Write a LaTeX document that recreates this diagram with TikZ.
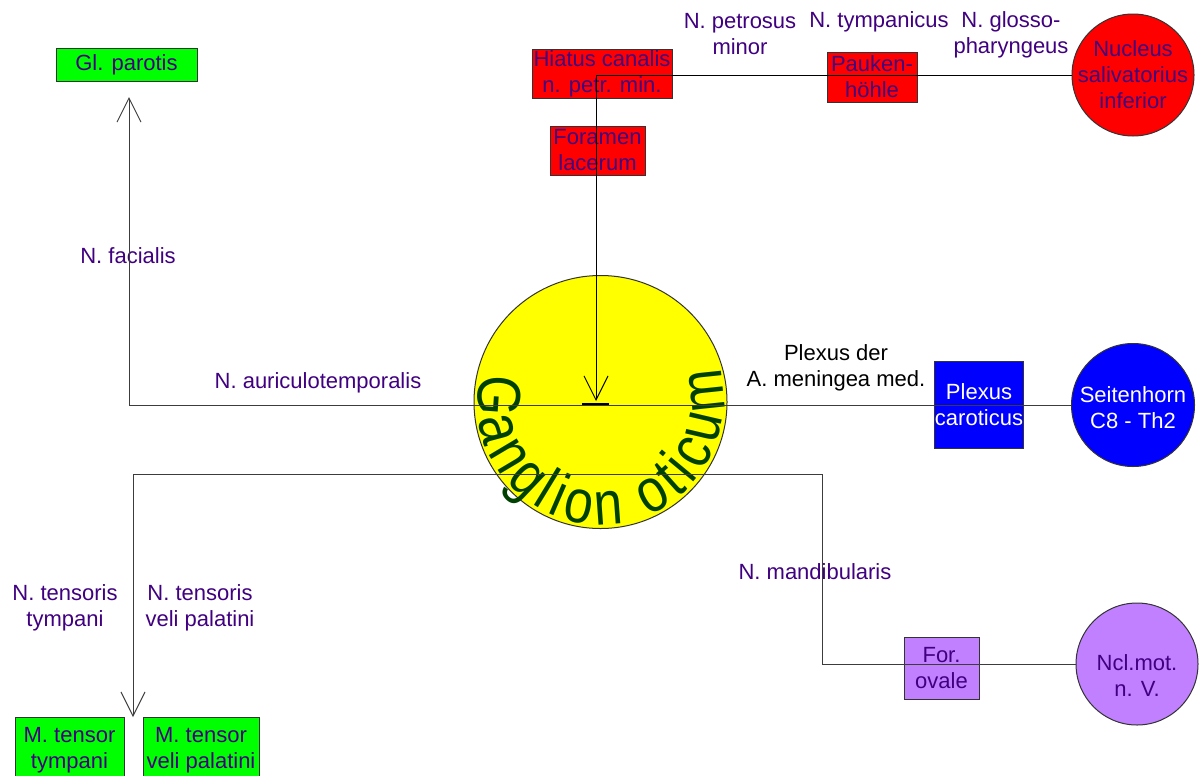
\documentclass[tikz,border=0pt]{standalone}
\usepackage{fontspec}
\setmainfont{Liberation Sans}
\newfontfamily\gangfam[FakeStretch=0.84]{Liberation Sans}
\usetikzlibrary{arrows.meta,decorations.text,calc}
\definecolor{labpurple}{RGB}{64,0,128}
\definecolor{gangreen}{RGB}{0,64,0}
\definecolor{bordergray}{RGB}{51,51,51}
\definecolor{linegray}{RGB}{60,60,60}
\definecolor{boxred}{RGB}{255,0,0}
\definecolor{boxgreen}{RGB}{0,255,0}
\definecolor{boxblue}{RGB}{0,0,255}
\definecolor{boxpurple}{RGB}{192,128,255}
\definecolor{boxyellow}{RGB}{255,255,0}
\newcommand\labfont{\fontsize{16.5}{19.5}\selectfont}
\newcommand\gangfont{\gangfam\fontsize{46}{46}\selectfont}
\begin{document}
\begin{tikzpicture}[x=0.75pt,y=-0.75pt,
 box/.style={draw=bordergray, line width=0.75pt, rectangle, inner sep=0pt, align=center, text=labpurple, font=\labfont},
 circ/.style={draw=bordergray, line width=0.75pt, circle, inner sep=0pt},
 lab/.style={align=center, text=labpurple, font=\labfont, inner sep=0pt},
 conn/.style={draw=linegray, line width=0.75pt},
 arr/.style={conn, -{Straight Barb[length=18pt,width=18pt]}},
]
\useasboundingbox (0,0) rectangle (1199,775);
\clip (0,0) rectangle (1199,775);
\fill[white] (0,0) rectangle (1199,775);

% ganglion
\node[circ, fill=boxyellow, minimum size=189.75pt] (gang) at (600.5,402) {};
\path[decorate, decoration={text along path, text color=gangreen, text align={fit to path},
  text={|\gangfont|Ganglion oticum}}]
  (gang.center) ++(-167:123) arc[start angle=-167, end angle=-376, radius=123];

% boxes
\node[box, fill=boxgreen, minimum width=105.75pt, minimum height=24.75pt] (parotis) at (126.5,64.5) {Gl. parotis};
\node[box, fill=boxred, minimum width=105pt, minimum height=36.75pt] (hiatus) at (602,73.5) {Hiatus canalis\\n. petr. min.};
\node[box, fill=boxred, minimum width=71.25pt, minimum height=36.75pt] (foramen) at (597.5,150.5) {Foramen\\lacerum};
\node[box, fill=boxred, minimum width=67.5pt, minimum height=37.5pt] (pauken) at (872,77) {Pauken-\\höhle};
\node[box, fill=boxblue, text=white, minimum width=64.5pt, minimum height=65.25pt] (plexus) at (979,404.5) {Plexus\\caroticus};
\node[box, fill=boxpurple, minimum width=56.25pt, minimum height=46.5pt] (forov) at (941.5,668) {For.\\ovale};
\node[box, fill=boxgreen, minimum width=81.75pt, minimum height=49.5pt] (mtt) at (69.5,750) {M. tensor\\tympani};
\node[box, fill=boxgreen, minimum width=87pt, minimum height=49.5pt] (mtv) at (201,750) {M. tensor\\veli palatini};

% circles
\node[circ, fill=boxred, minimum size=91.5pt] (nucleus) at (1133,75) {};
\node[lab] (nucleus-t) at (1133,75) {Nucleus\\salivatorius\\inferior};
\node[circ, fill=boxblue, minimum size=92.25pt] (seiten) at (1133,405) {};
\node[lab, text=white] (seiten-t) at (1133,408) {Seitenhorn\\C8 - Th2};
\node[circ, fill=boxpurple, minimum size=91.5pt] (ncl) at (1137,664) {};
\node[lab] (ncl-t) at (1137,676) {Ncl.mot.\\n. V.};

% labels
\node[lab] (lpet) at (740,34.5) {N. petrosus\\minor};
\node[lab] (ltym) at (879,22) {N. tympanicus};
\node[lab] (lglo) at (1011,34.5) {N. glosso-\\pharyngeus};
\node[lab] (lfac) at (128,256) {N. facialis};
\node[lab] (laur) at (318,383) {N. auriculotemporalis};
\node[lab, text=black] (lple) at (836,368) {Plexus der\\A. meningea med.};
\node[lab] (lman) at (815,572) {N. mandibularis};
\node[lab] (ltt) at (65,608) {N. tensoris\\tympani};
\node[lab] (ltv) at (200,608) {N. tensoris\\veli palatini};

% connectors
\coordinate (hc) at (596,75);
\coordinate (htip) at (596,401);
\draw[arr, draw=black] (nucleus.west) -- (hc) -- (htip);
\draw[black, line width=2pt] ($(htip)+(-14,3)$) -- ($(htip)+(13,3)$);

\coordinate (lc) at (129,405);
\coordinate (ptip) at (129,97);
\draw[arr] (seiten.west) -- (lc) -- (ptip);

\coordinate (mr) at (822,664);
\coordinate (mt) at (822,474);
\coordinate (lt) at (133,474);
\coordinate (ttip) at (133,717);
\draw[arr] (ncl.west) -- (mr) -- (mt) -- (lt) -- (ttip);
\end{tikzpicture}
\end{document}
